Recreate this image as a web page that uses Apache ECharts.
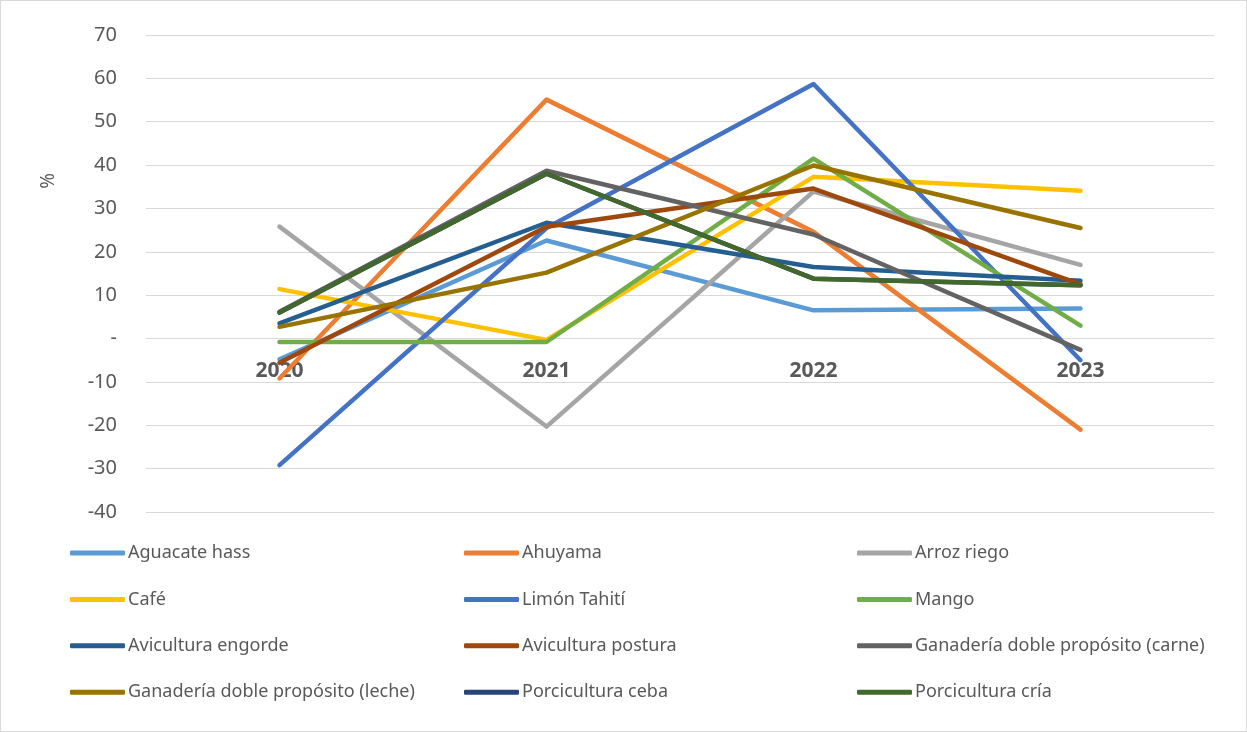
<!DOCTYPE html>
<html lang="es">

<head>
    <meta charset="UTF-8">
    <title>Variación anual</title>
    <script src="https://cdn.jsdelivr.net/npm/echarts@6/dist/echarts.min.js"></script>
    <style>
        html, body { margin: 0; padding: 0; background: #fff; }
        #chart { width: 1245px; height: 730px; border: 1px solid #d9d9d9; }
    </style>
</head>

<body>
    <div id="chart"></div>
</body>
<script type="text/javascript">
    // años (categorías)
    var years = ['2020', '2021', '2022', '2023'];

    // valores por producto (%)
    var aguacateHass = [-4.8, 22.6, 6.5, 6.9];
    var ahuyama = [-9.2, 55.1, 24.6, -21.0];
    var arrozRiego = [25.8, -20.3, 33.9, 17.0];
    var cafe = [11.4, -0.3, 37.3, 34.1];
    var limonTahiti = [-29.2, 25.5, 58.7, -5.0];
    var mango = [-0.8, -0.8, 41.5, 3.0];
    var aviculturaEngorde = [3.5, 26.7, 16.5, 13.3];
    var aviculturaPostura = [-5.6, 25.8, 34.6, 12.5];
    var ganaderiaCarne = [6.2, 38.7, 24.0, -2.6];
    var ganaderiaLeche = [2.7, 15.2, 39.9, 25.5];
    var porciculturaCeba = [6.0, 38.0, 13.8, 12.3];
    var porciculturaCria = [6.0, 38.0, 13.8, 12.3];

    var yTicks = { min: -40, max: 70, interval: 10 };

    var seriesDefs = [
        ['Aguacate hass', aguacateHass, '#5B9BD5'],
        ['Ahuyama', ahuyama, '#ED7D31'],
        ['Arroz riego', arrozRiego, '#A5A5A5'],
        ['Café', cafe, '#FFC000'],
        ['Limón Tahití', limonTahiti, '#4472C4'],
        ['Mango', mango, '#70AD47'],
        ['Avicultura engorde', aviculturaEngorde, '#255E91'],
        ['Avicultura postura', aviculturaPostura, '#9E480E'],
        ['Ganadería doble propósito (carne)', ganaderiaCarne, '#636363'],
        ['Ganadería doble propósito (leche)', ganaderiaLeche, '#997300'],
        ['Porcicultura ceba', porciculturaCeba, '#264478'],
        ['Porcicultura cría', porciculturaCria, '#43682B']
    ];

    var font = 'Noto Sans';
    var textColor = '#595959';

    // leyenda en tres columnas
    var legendCols = [[0, 3, 6, 9], [1, 4, 7, 10], [2, 5, 8, 11]];
    var legendLeft = [69, 463, 856];
    var legends = legendCols.map(function (col, i) {
        return {
            orient: 'vertical',
            left: legendLeft[i],
            top: 542,
            padding: 0,
            icon: 'roundRect',
            itemWidth: 55,
            itemHeight: 5,
            itemGap: 26.4,
            data: col.map(function (k) { return seriesDefs[k][0]; }),
            textStyle: { fontFamily: font, fontSize: 18, color: textColor, lineHeight: 20, padding: [0, 0, 0, -2] }
        };
    });

    var chart = echarts.init(document.getElementById('chart'));

    var option = {
        animation: false,
        legend: legends,
        graphic: [{
            type: 'text',
            left: 38,
            top: 172,
            rotation: Math.PI / 2,
            style: { text: '%', fontFamily: font, fontSize: 19, fill: textColor }
        }],
        grid: { left: 145, right: 32, top: 34, bottom: 219 },
        xAxis: {
            type: 'category',
            data: years,
            position: 'bottom',
            offset: -174,
            axisLine: { show: false },
            axisTick: { show: false },
            axisLabel: { fontFamily: font, fontSize: 21, fontWeight: 'bold', color: textColor, margin: 23 }
        },
        yAxis: {
            type: 'value',
            min: yTicks.min,
            max: yTicks.max,
            interval: yTicks.interval,
            axisLine: { show: false },
            axisTick: { show: false },
            axisLabel: {
                fontFamily: font, fontSize: 20, color: textColor, margin: 29,
                formatter: function (v) { return v === 0 ? '-' : v; }
            },
            splitLine: { lineStyle: { color: '#d9d9d9', width: 1 } }
        },
        series: seriesDefs.map(function (d) {
            return {
                name: d[0],
                type: 'line',
                data: d[1],
                symbol: 'none',
                color: d[2],
                lineStyle: { width: 4.5, color: d[2], cap: 'round', join: 'round' }
            };
        })
    };

    chart.setOption(option);
</script>

</html>
